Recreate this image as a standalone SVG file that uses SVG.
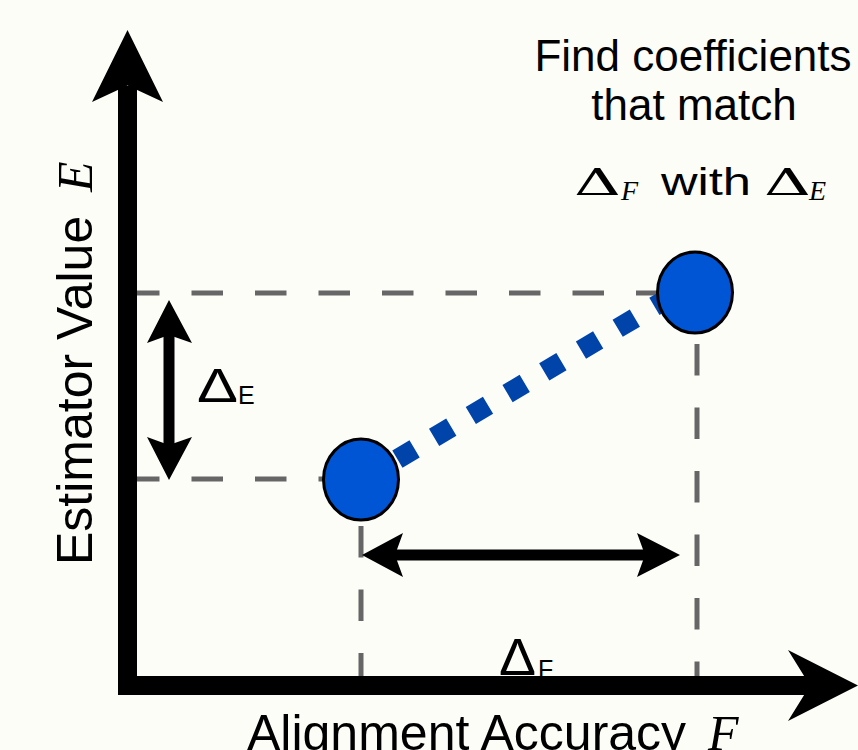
<svg xmlns="http://www.w3.org/2000/svg" width="858" height="750" viewBox="0 0 858 750">
  <style>
    .dash { stroke: #666666; stroke-width: 5; stroke-dasharray: 31.5 32; fill: none; }
    .node { fill: #0055d4; stroke: #000000; stroke-width: 3; }
    .sans { font-family: "Liberation Sans", Arial, sans-serif; fill: #000000; }
    .serif { font-family: "DejaVu Serif", "Liberation Serif", serif; fill: #000000; }
    .ital { font-family: "Liberation Serif", "Times New Roman", serif; font-style: italic; fill: #000000; }
    .blk { fill: #000000; }
  </style>
  <rect x="0" y="0" width="858" height="750" fill="#fdfdf8"/>

  <!-- guide lines -->
  <g id="guides">
    <line class="dash" x1="128" y1="293" x2="660" y2="293"/>
    <line class="dash" x1="128" y1="479" x2="324" y2="479"/>
    <line class="dash" x1="697" y1="344" x2="697" y2="696"/>
    <line class="dash" x1="361" y1="526" x2="361" y2="690"/>
  </g>

  <!-- labels -->
  <g id="delta-F-label">
    <text class="sans" x="499" y="675" font-size="51" textLength="37" lengthAdjust="spacingAndGlyphs">Δ</text>
    <text class="sans" x="538" y="678" font-size="25">F</text>
  </g>
  <g id="delta-E-label">
    <text class="sans" x="197" y="402" font-size="49" textLength="41" lengthAdjust="spacingAndGlyphs">Δ</text>
    <text class="sans" x="238" y="404" font-size="25">E</text>
  </g>

  <!-- axes -->
  <g id="y-axis">
    <rect class="blk" x="118" y="86" width="19" height="609"/>
    <polygon class="blk" points="127.5,30 163,102 127.5,85.5 92,102"/>
  </g>
  <g id="x-axis">
    <rect class="blk" x="118" y="676" width="694" height="19"/>
    <polygon class="blk" points="858,685.5 788,650 810,685.5 788,721"/>
  </g>

  <text id="y-label" class="sans" font-size="50" transform="translate(92,565) rotate(-90)">Estimator Value <tspan class="ital" x="373">E</tspan></text>
  <text id="x-label" class="sans" font-size="50" x="247" y="750">Alignment Accuracy <tspan class="ital" x="708">F</tspan></text>

  <!-- measurement arrows -->
  <g id="delta-E-arrow">
    <rect class="blk" x="163.5" y="330" width="11" height="120"/>
    <polygon class="blk" points="169,300 192,343 169,335 147,343"/>
    <polygon class="blk" points="169,480 192,437 169,445 147,437"/>
  </g>
  <g id="delta-F-arrow">
    <rect class="blk" x="390" y="549.5" width="260" height="11"/>
    <polygon class="blk" points="362,555 403,533 395,555 403,577"/>
    <polygon class="blk" points="680,555 637,533 645,555 637,577"/>
  </g>

  <!-- connector -->
  <g id="connectors">
    <line x1="397.4" y1="459.1" x2="672" y2="296" stroke="#0044aa" stroke-width="20" stroke-dasharray="20 22.7"/>
  </g>

  <!-- nodes -->
  <g id="point-low">
    <ellipse class="node" cx="361" cy="479.5" rx="37.5" ry="40.5"/>
  </g>
  <g id="point-high">
    <ellipse class="node" cx="695" cy="292.5" rx="37.5" ry="40.5"/>
  </g>

  <!-- annotation -->
  <g id="annotation">
    <text class="sans" x="693" y="71" font-size="44" text-anchor="middle">Find coefficients</text>
    <text class="sans" x="694" y="120" font-size="44" text-anchor="middle">that match</text>
    <text class="serif" x="574" y="195" font-size="38" textLength="47" lengthAdjust="spacingAndGlyphs">Δ</text>
    <text class="ital" x="621" y="200" font-size="28">F</text>
    <text class="sans" x="661" y="195" font-size="38" textLength="90" lengthAdjust="spacingAndGlyphs">with</text>
    <text class="serif" x="764" y="195" font-size="38" textLength="47" lengthAdjust="spacingAndGlyphs">Δ</text>
    <text class="ital" x="809" y="200" font-size="28">E</text>
  </g>
</svg>
